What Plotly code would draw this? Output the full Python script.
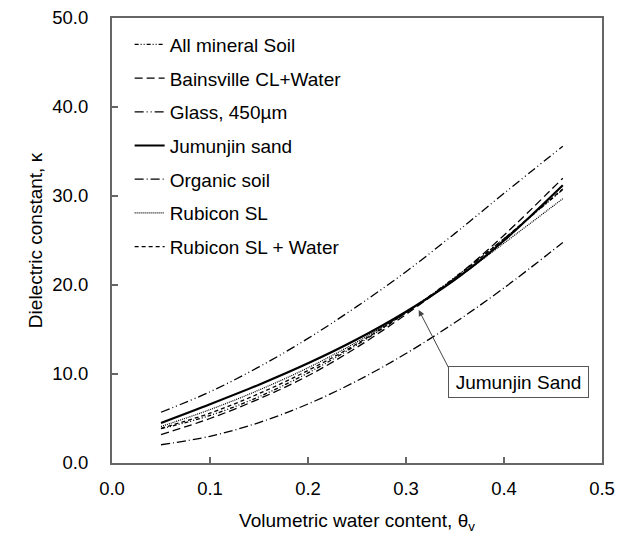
import plotly.graph_objects as go

theta = [0.05, 0.10, 0.15, 0.20, 0.25, 0.30, 0.35, 0.40, 0.46]

all_mineral = [3.85, 5.34, 7.45, 10.12, 13.28, 16.89, 20.88, 25.20, 30.73]
bainsville = [3.2, 5.0, 7.2, 9.8, 13.0, 16.7, 20.8, 25.6, 32.0]
glass = [5.7, 8.0, 10.8, 14.0, 17.6, 21.5, 25.8, 30.3, 35.6]
jumunjin = [4.5, 6.6, 8.8, 11.2, 13.9, 17.0, 20.6, 25.0, 31.2]
organic = [2.05, 3.00, 4.54, 6.63, 9.23, 12.30, 15.79, 19.67, 24.77]
rubicon = [4.1, 6.0, 8.2, 10.7, 13.6, 16.9, 20.6, 24.7, 29.7]
rubicon_water = [3.9, 5.6, 7.8, 10.4, 13.4, 16.9, 20.8, 25.2, 30.8]

series = [
    ("All mineral Soil", all_mineral, "4px,2px,1px,2px,1px,2px", 1.3),
    ("Bainsville CL+Water", bainsville, "8px,4px", 1.3),
    ("Glass, 450µm", glass, "9px,3px,1px,3px,1px,3px", 1.3),
    ("Jumunjin sand", jumunjin, "solid", 2.2),
    ("Organic soil", organic, "9px,3px,1px,3px", 1.3),
    ("Rubicon SL", rubicon, "1px,1px", 1.2),
    ("Rubicon SL + Water", rubicon_water, "4px,3px", 1.3),
]

fig = go.Figure()
for i, (name, vals, dash, w) in enumerate(series):
    fig.add_trace(go.Scatter(
        x=theta, y=vals, name=name, mode="lines",
        line=dict(color="black", width=w, dash=dash, shape="spline"),
        legendgroup=f"g{i}",
    ))

fam = "Liberation Sans, Arial, sans-serif"
font = dict(family=fam, size=18.5, color="black")
lfont = dict(family=fam, size=19, color="black")

fig.update_layout(
    width=622, height=534,
    margin=dict(l=112, r=20, t=18, b=71),
    paper_bgcolor="white", plot_bgcolor="white",
    font=font,
    showlegend=True,
    legend=dict(x=0.036, y=0.983, xanchor="left", yanchor="top",
                bgcolor="rgba(0,0,0,0)", tracegroupgap=6,
                font=lfont, itemwidth=30),
    xaxis=dict(range=[0, 0.5], dtick=0.1, tickformat=".1f",
               showline=True, linecolor="#666666", linewidth=2, mirror=True,
               ticks="inside", ticklen=6, tickcolor="#666666", tickwidth=1.5,
               showgrid=False, zeroline=False, automargin=False,
               title=dict(text="Volumetric water content, θ<sub>v</sub>", standoff=18,
                          font=lfont),
               ticklabelstandoff=8),
    yaxis=dict(range=[0, 50], dtick=10, tickformat=".1f",
               showline=True, linecolor="#666666", linewidth=2, mirror=True,
               ticks="inside", ticklen=6, tickcolor="#666666", tickwidth=1.5,
               showgrid=False, zeroline=False, automargin=False,
               title=dict(text="Dielectric constant, κ", standoff=5, font=lfont),
               ticklabelstandoff=18),
)

fig.add_annotation(
    x=0.313, y=17.2, xref="x", yref="y",
    ax=0.35, ay=9.3, axref="x", ayref="y",
    text="", showarrow=True, arrowhead=2, arrowsize=1.2, arrowwidth=1,
    arrowcolor="#444444",
)
fig.add_annotation(
    x=0.415, y=9.1, xref="x", yref="y", text="Jumunjin Sand",
    showarrow=False, bordercolor="#555555", borderwidth=1, borderpad=2,
    width=135, height=26, bgcolor="white", font=lfont,
)

fig.write_html("out.html", config={"displayModeBar": False},
               post_script="document.body.style.margin='0';")
